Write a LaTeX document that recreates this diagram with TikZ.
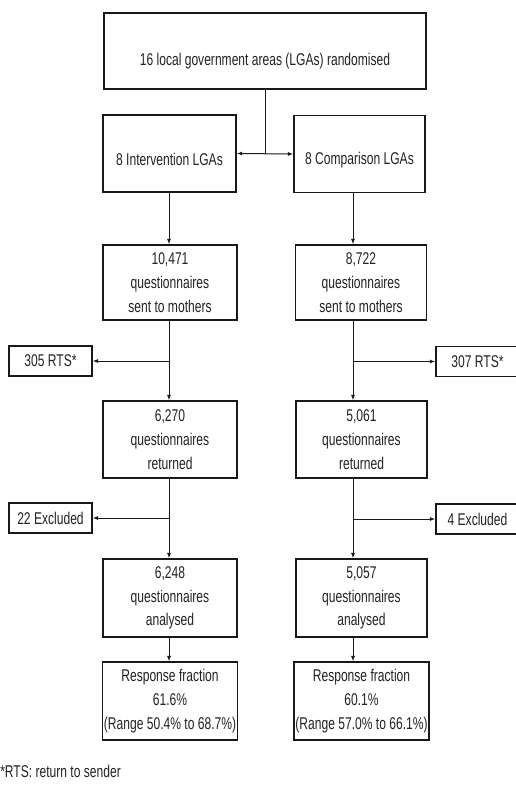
\documentclass[tikz,border=0pt]{standalone}
\usepackage{fontspec}
\setmainfont{Liberation Sans}[FakeStretch=0.71]
\usetikzlibrary{arrows.meta, positioning}
\definecolor{lineColor}{RGB}{25, 25, 25}
\definecolor{textColor}{RGB}{35, 35, 35}
\tikzset{
    font=\fontsize{12.75}{17.75}\selectfont,
    % --- main boxes ---
    flowBox/.style={
        rectangle, draw=lineColor, line width=1.1pt, fill=white,
        text=textColor, minimum width=#1, minimum height=57.75pt,
        inner xsep=1pt, inner ysep=2pt, align=center
    },
    flowBox/.default=100pt,
    % --- side boxes (RTS / excluded) ---
    sideBox/.style={
        rectangle, draw=lineColor, line width=1.1pt, fill=white,
        text=textColor, minimum width=62.25pt, minimum height=22.5pt,
        inner sep=1pt
    },
    % --- connectors ---
    plainLine/.style={
        draw=lineColor, line width=0.75pt
    },
    conn/.style={
        plainLine, -{Latex[length=4pt, width=3pt]}
    },
    connBoth/.style={
        plainLine, {Latex[length=4pt, width=3pt]}-{Latex[length=4pt, width=3pt]}
    }
}

\begin{document}
\begin{tikzpicture}[x=0.75pt, y=-0.75pt]

	\useasboundingbox (0,0) rectangle (515,786);

	% =========================================
	% 1. boxes
	% =========================================

	% --- randomisation ---
	\node[flowBox=241.5pt, minimum height=57pt, text height=24pt] (lga) at (265, 51) {16 local government areas (LGAs) randomised};

	\node[flowBox=99.75pt, text height=18pt] (intLga) at (169.5, 153.5) {8 Intervention LGAs};
	\node[flowBox=98.25pt, text height=18pt] (cmpLga) at (359.5, 154) {8 Comparison LGAs};

	% --- questionnaires sent ---
	\node[flowBox=100.5pt, minimum height=56.25pt] (intSent) at (170, 282.5) {10,471\\questionnaires\\sent to mothers};
	\node[flowBox=98pt, minimum height=56.25pt] (cmpSent) at (361, 282.5) {8,722\\questionnaires\\sent to mothers};

	\node[sideBox] (intRts) at (50.5, 361) {305 RTS*};
	\node[sideBox] (cmpRts) at (477.5, 361.5) {307 RTS*};

	% --- returned ---
	\node[flowBox=100.5pt] (intRet) at (170, 439.5) {6,270\\questionnaires\\returned};
	\node[flowBox=98pt] (cmpRet) at (361.5, 439.5) {5,061\\questionnaires\\returned};

	\node[sideBox] (intExc) at (50.5, 518) {22 Excluded};
	\node[sideBox] (cmpExc) at (477.5, 519) {4 Excluded};

	% --- analysed ---
	\node[flowBox=100.5pt, minimum height=58.5pt] (intAna) at (170, 598) {6,248\\questionnaires\\analysed};
	\node[flowBox=98pt, minimum height=58.5pt] (cmpAna) at (361.5, 598) {5,057\\questionnaires\\analysed};

	% --- response fraction ---
	\node[flowBox=100.5pt, minimum height=58.5pt] (intRes) at (170, 701) {Response fraction\\61.6\%\\(Range 50.4\% to 68.7\%)};
	\node[flowBox=98pt, minimum height=58.5pt] (cmpRes) at (361.5, 701) {Response fraction\\60.1\%\\(Range 57.0\% to 66.1\%)};

	% footnote
	\node[text=textColor, anchor=west, inner sep=0pt] (rtsNote) at (0, 771) {*RTS: return to sender};

	% =========================================
	% 2. connectors
	% =========================================

	% column lines
	\coordinate (colL) at (169, 0);
	\coordinate (colR) at (353, 0);

	\draw[plainLine] (lga.south) -- (lga.south |- intLga.east);
	\draw[connBoth] (intLga.east) -- (cmpLga.west);

	% intervention side
	\draw[conn] (intLga.south -| colL) -- (intSent.north -| colL);
	\draw[conn] (intSent.south -| colL) -- (intRet.north -| colL);
	\draw[conn] (colL |- intRts.east) -- (intRts.east);
	\draw[conn] (intRet.south -| colL) -- (intAna.north -| colL);
	\draw[conn] (colL |- intExc.east) -- (intExc.east);
	\draw[conn] (intAna.south -| colL) -- (intRes.north -| colL);

	% comparison side
	\draw[conn] (cmpLga.south -| colR) -- (cmpSent.north -| colR);
	\draw[conn] (cmpSent.south -| colR) -- (cmpRet.north -| colR);
	\draw[conn] (colR |- cmpRts.west) -- (cmpRts.west);
	\draw[conn] (cmpRet.south -| colR) -- (cmpAna.north -| colR);
	\draw[conn] (colR |- cmpExc.west) -- (cmpExc.west);
	\draw[conn] (cmpAna.south -| colR) -- (cmpRes.north -| colR);

\end{tikzpicture}
\end{document}
